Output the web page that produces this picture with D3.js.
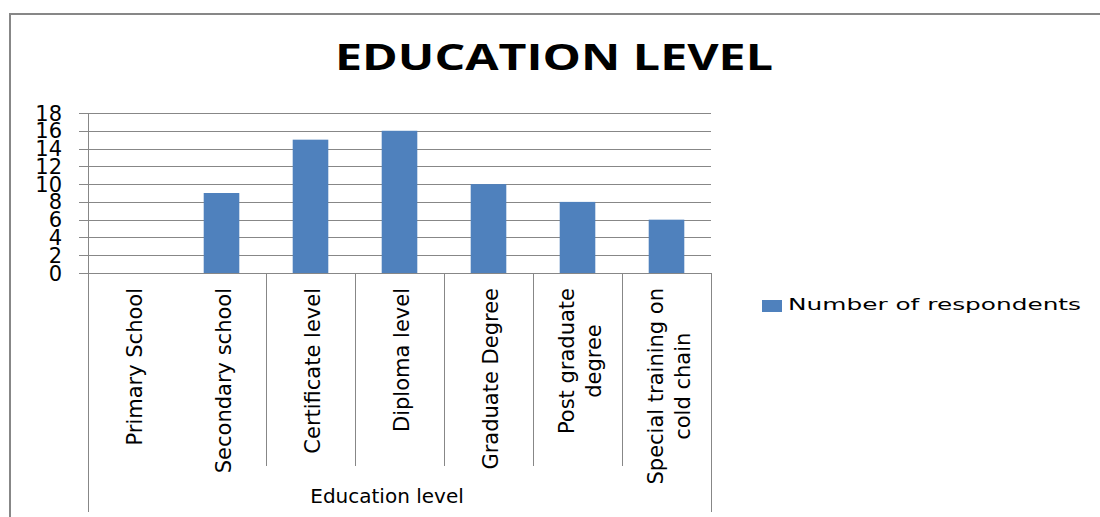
<!DOCTYPE html>
<html>
<head>
<meta charset="utf-8">
<script src="https://cdn.jsdelivr.net/npm/d3@7"></script>
<style>
  body { margin: 0; background: #fff; }
  svg { display: block; }
</style>
</head>
<body>
<svg width="1100" height="517"></svg>
<script>
// data
const categories = ['Primary School','Secondary school','Certificate level','Diploma level',
                    'Graduate Degree','Post graduate degree','Special training on cold chain'];
const catLines = [['Primary School'],['Secondary school'],['Certificate level'],['Diploma level'],
                  ['Graduate Degree'],['Post graduate','degree'],['Special training on','cold chain']];
const respondents = [0, 9, 15, 16, 10, 8, 6];
const yTicks = [0, 2, 4, 6, 8, 10, 12, 14, 16, 18];
const seriesName = 'Number of respondents';

const svg = d3.select('svg');
const plotLeft = 88, plotRight = 711, plotTop = 113, plotBase = 273;
const grey = '#878787';

// outer frame of the chart
svg.append('path')
   .attr('d', 'M10,517 V14 H1100')
   .attr('fill', 'none').attr('stroke', grey).attr('stroke-width', 2);

svg.append('text')
   .attr('x', 554).attr('y', 70)
   .attr('text-anchor', 'middle')
   .attr('font-family', 'Open Sans').attr('font-weight', 'bold').attr('font-size', 35)
   .attr('textLength', 438).attr('lengthAdjust', 'spacingAndGlyphs')
   .text('EDUCATION LEVEL');

const y = d3.scaleLinear().domain([0, 18]).range([plotBase, plotTop]);
const cell = d3.scaleBand().domain(categories).range([plotLeft, plotRight]);
const x = d3.scaleBand().domain(categories).range([plotLeft, plotRight])
            .paddingInner(0.6).paddingOuter(0.3);

// gridlines + tick marks
svg.append('g').selectAll('line')
   .data(yTicks).join('line')
   .attr('x1', plotLeft - 9).attr('x2', plotRight)
   .attr('y1', d => Math.round(y(d)) + 0.5).attr('y2', d => Math.round(y(d)) + 0.5)
   .attr('stroke', grey);

svg.append('g').selectAll('text')
   .data(yTicks).join('text')
   .attr('x', 62).attr('y', d => y(d))
   .attr('dy', '0.36em')
   .attr('text-anchor', 'end')
   .attr('font-family', 'DejaVu Sans').attr('font-size', 21)
   .text(d => d);

// bars
svg.append('g').selectAll('rect')
   .data(respondents).join('rect')
   .attr('x', (d, i) => x(categories[i]))
   .attr('width', x.bandwidth())
   .attr('y', d => y(d))
   .attr('height', d => plotBase - y(d))
   .attr('fill', '#4F81BD');

// axis lines
svg.append('line').attr('x1', plotLeft + 0.5).attr('x2', plotLeft + 0.5)
   .attr('y1', plotTop).attr('y2', 512).attr('stroke', grey);
svg.append('line').attr('x1', plotRight + 0.5).attr('x2', plotRight + 0.5)
   .attr('y1', plotBase).attr('y2', 512).attr('stroke', grey);

// category separators (none between the first two in the reference)
svg.append('g').selectAll('line')
   .data(categories.slice(2)).join('line')
   .attr('x1', d => Math.round(cell(d)) + 0.5).attr('x2', d => Math.round(cell(d)) + 0.5)
   .attr('y1', plotBase).attr('y2', 466)
   .attr('stroke', grey);

// rotated category labels
const labels = svg.append('g').selectAll('g')
   .data(categories).join('g')
   .attr('transform', d => `translate(${cell(d) + cell.bandwidth() / 2 + 2},288) rotate(-90)`);

labels.each(function(d, i) {
    const g = d3.select(this);
    const lines = catLines[i];
    const t = g.selectAll('text').data(lines).join('text')
        .attr('text-anchor', 'middle')
        .attr('y', (s, j) => (j - (lines.length - 1) / 2) * 27)
        .attr('dy', '0.36em')
        .attr('font-family', 'DejaVu Sans').attr('font-size', 21)
        .text(s => s);
    let maxLen = 0;
    t.each(function() { maxLen = Math.max(maxLen, this.getComputedTextLength()); });
    t.attr('x', -maxLen / 2);
});

svg.append('text')
   .attr('x', 387).attr('y', 503)
   .attr('text-anchor', 'middle')
   .attr('font-family', 'DejaVu Sans').attr('font-size', 20)
   .text('Education level');

// legend
svg.append('rect')
   .attr('x', 762).attr('y', 300).attr('width', 20).attr('height', 12)
   .attr('fill', '#4F81BD');
svg.append('text')
   .attr('x', 788).attr('y', 310)
   .attr('font-family', 'DejaVu Sans').attr('font-size', 16.5)
   .attr('textLength', 293).attr('lengthAdjust', 'spacingAndGlyphs')
   .text(seriesName);
</script>
</body>
</html>
